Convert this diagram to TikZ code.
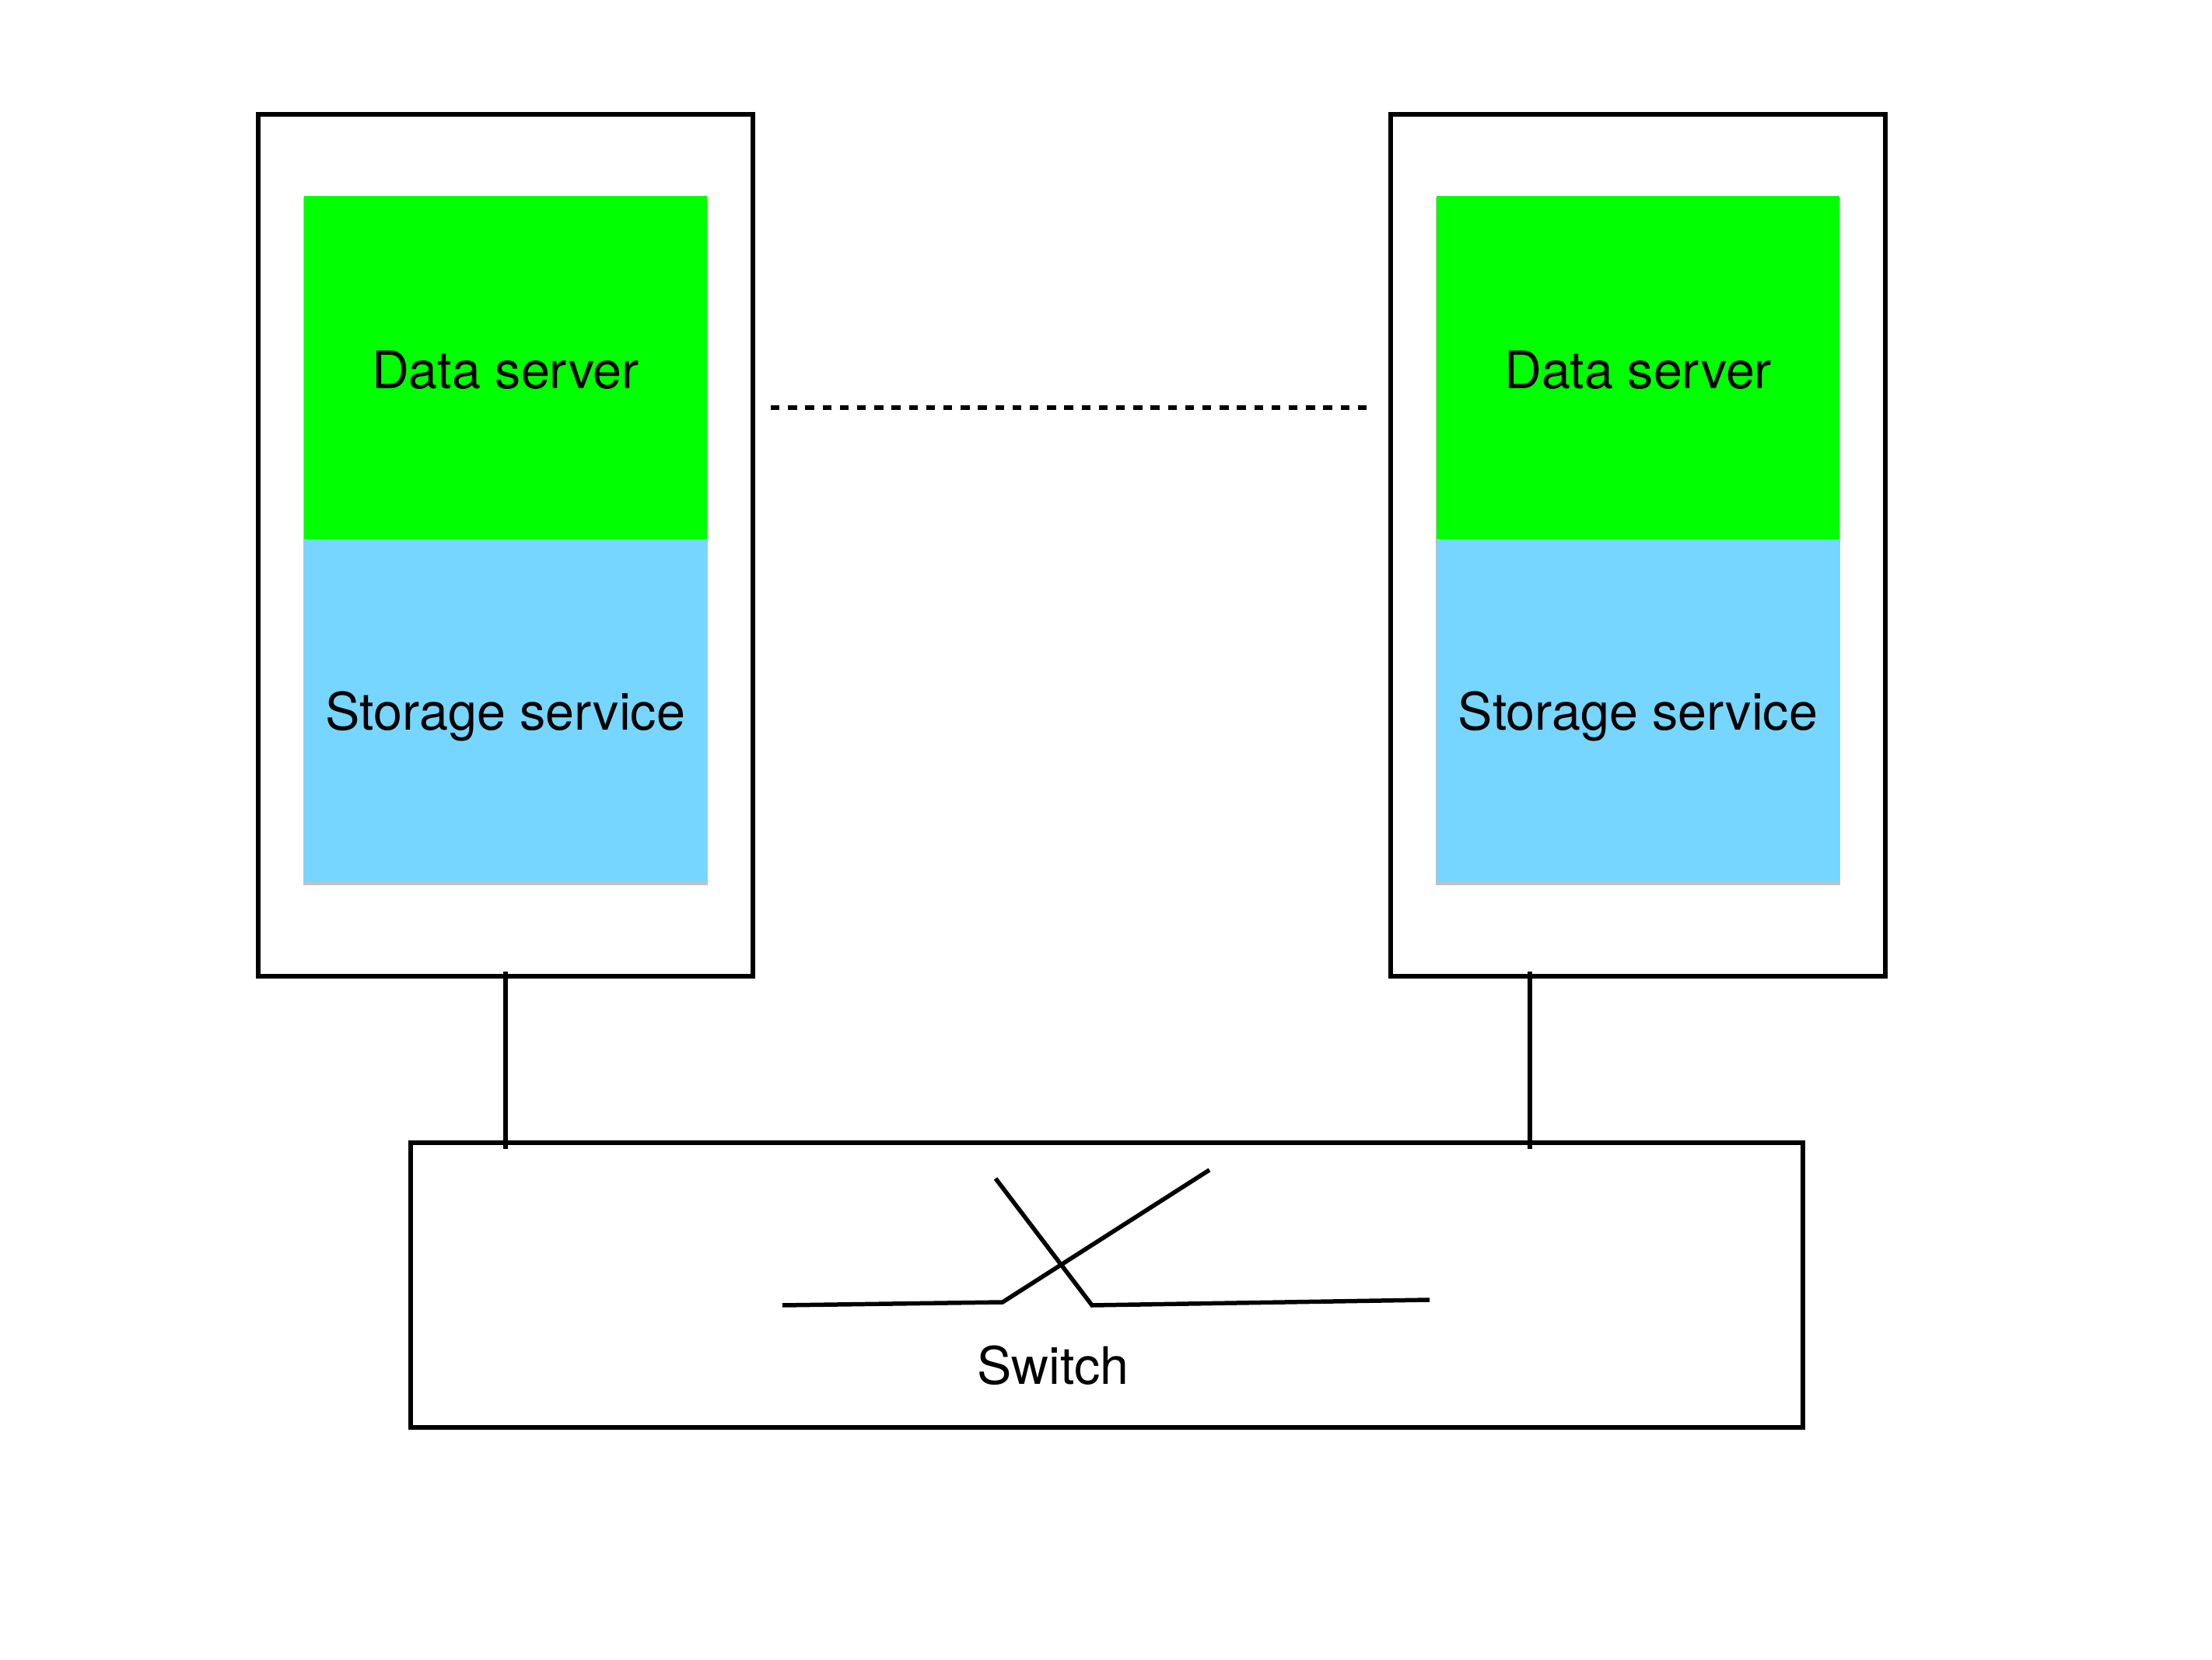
\documentclass[tikz,border=0pt]{standalone}
\usepackage{fontspec}
\setmainfont{TeX Gyre Heros}
\usetikzlibrary{positioning,shadows}
\definecolor{dataGreen}{HTML}{00FF00}
\definecolor{storageBlue}{HTML}{76D6FF}
\tikzset{
    wire/.style = {
        line width=0.055cm,
        },
    label text/.style = {
        font=\fontsize{18.9}{23}\selectfont,
        text height=14pt,
        text depth=0pt,
        },
    server/.style = {
        draw,
        wire,
        outer sep=0pt,
        minimum width=6.36cm,
        minimum height=11.08cm,
        },
    service/.style = {
        label text,
        outer sep=0pt,
        inner sep=0pt,
        minimum width=5.18cm,
        minimum height=4.41cm,
        drop shadow={shadow xshift=0pt, shadow yshift=-0.025cm, shadow scale=1.004, fill=black!30, opacity=0.8},
        },
    data service/.style = {
        service,
        fill = dataGreen,
        text height=15pt,
        },
    storage service/.style = {
        service,
        fill = storageBlue,
        },
    switch box/.style = {
        draw,
        wire,
        outer sep=0pt,
        minimum width=17.9cm,
        minimum height=3.66cm,
        },
    link/.style = {
        wire,
        shorten <=-0.06cm,
        shorten >=-0.08cm,
    },
    peer gap/.style = {
        line width=0.06cm,
        dash pattern=on 0.113cm off 0.109cm,
    },
}
\begin{document}
\begin{tikzpicture}
    \useasboundingbox (0,0) rectangle (28.44,21.33);

    \node[server] (server1) at (6.5,14.32) {};
    \node[server, right=8.2cm of server1] (server2) {};

    \node[data service] (data1) at (6.5,16.6) {Data server};
    \node[storage service, below=0pt of data1] (storage1) {Storage service};
    \node[data service] (data2) at (data1 -| server2) {Data server};
    \node[storage service, below=0pt of data2] (storage2) {Storage service};

    \node[switch box] (switch) at (14.23,4.81) {};
    \node[label text, inner sep=0pt] (switchlabel) at (13.54,3.78) {Switch};

    % dotted link between the two servers
    \coordinate (gap1) at (9.91,16.09);
    \coordinate (gap2) at (17.59,16.09);
    \draw[peer gap] (gap1) -- (gap2);

    \coordinate (port2) at (19.67,8);
    \draw[link] (server1.south) -- (server1.south |- switch.north);
    \draw[link] (port2 |- server2.south) -- (port2 |- switch.north);

    % the crossed contacts
    \coordinate (armA1) at (10.06,4.55);
    \coordinate (armA2) at (12.89,4.59);
    \coordinate (armA3) at (15.55,6.29);
    \coordinate (armB1) at (12.80,6.18);
    \coordinate (armB2) at (14.04,4.55);
    \coordinate (armB3) at (18.38,4.62);
    \draw[wire] (armA1) -- (armA2) -- (armA3);
    \draw[wire] (armB1) -- (armB2) -- (armB3);
\end{tikzpicture}
\end{document}
